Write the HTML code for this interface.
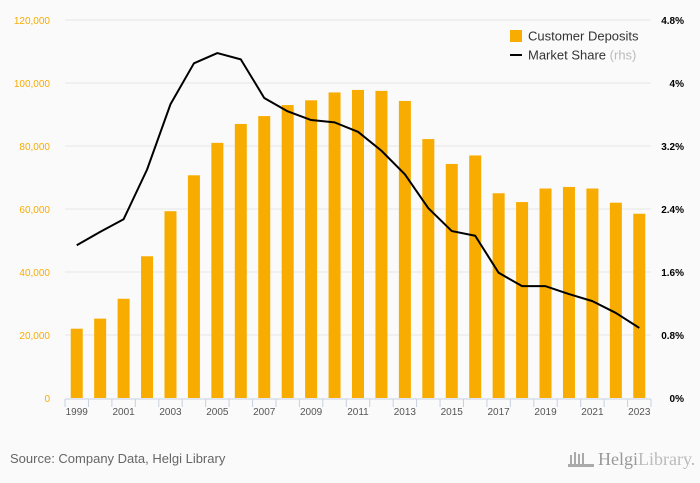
<!DOCTYPE html>
<html><head><meta charset="utf-8"><style>
body{margin:0;background:#fafafa;font-family:"Liberation Sans",sans-serif;}
svg{display:block}
</style></head><body>
<svg width="700" height="483" id="c">
<rect width="700" height="483" fill="#fafafa"/>
<g id="grid"></g><g id="bars"></g><g id="line"></g><g id="axes"></g>
<g>
<rect x="510" y="30" width="12" height="12" fill="#f8ac00"/>
<text x="528" y="40.5" font-size="13" fill="#333">Customer Deposits</text>
<line x1="510" y1="55" x2="522" y2="55" stroke="#000" stroke-width="2"/>
<text x="528" y="59.5" font-size="13" fill="#333">Market Share <tspan fill="#bbb">(rhs)</tspan></text>
</g>
<text x="10" y="463" font-size="13" fill="#666">Source: Company Data, Helgi Library</text>
<text x="598" y="465" font-size="18" fill="#999" font-family="Liberation Serif,serif">Helgi<tspan fill="#bbb">Library.</tspan></text>
<g fill="#aaa"><rect x="570" y="455" width="2" height="12"/><rect x="574" y="452" width="2" height="15"/><rect x="578" y="454" width="2" height="13"/><rect x="582" y="453" width="2" height="14"/><rect x="568" y="464" width="26" height="3"/></g>
</svg>
<script>
const years=["1999","2000","2001","2002","2003","2004","2005","2006","2007","2008","2009","2010","2011","2012","2013","2014","2015","2016","2017","2018","2019","2020","2021","2022","2023"];
const deposits=[22000,25200,31500,45000,59300,70700,81000,87000,89500,93000,94500,97000,97800,97500,94300,82200,74300,77000,65000,62200,66500,67000,66500,62000,58500];
const share=[1.94,2.11,2.27,2.90,3.73,4.25,4.38,4.30,3.81,3.64,3.53,3.50,3.38,3.14,2.84,2.41,2.12,2.06,1.59,1.42,1.42,1.32,1.23,1.08,0.89];
const leftTicks=[0,20000,40000,60000,80000,100000,120000];
const rightTicks=["0%","0.8%","1.6%","2.4%","3.2%","4%","4.8%"];
const NS="http://www.w3.org/2000/svg";
const y0=398,y1=20,xL=65,xR=651;
const step=(xR-xL)/years.length;
const xs=i=>xL+step*(i+0.5);
const yL=v=>y0-(v/120000)*(y0-y1);
const yR=v=>y0-(v/4.8)*(y0-y1);
function mk(t,a,p){const e=document.createElementNS(NS,t);for(const k in a)e.setAttribute(k,a[k]);p.appendChild(e);return e;}
const G=document.getElementById('grid'),B=document.getElementById('bars'),L=document.getElementById('line'),A=document.getElementById('axes');
leftTicks.forEach((v,i)=>{
 if(i>0){const g=mk('line',{x1:xL,x2:xR,y1:yL(v),y2:yL(v),stroke:'#e6e6e6'},G);
 
 }
 const t=mk('text',{x:50,y:yL(v)+4,'font-size':10,fill:'#f8ac00','text-anchor':'end'},A);t.textContent=v.toLocaleString('en-US');
 
 
 const r=mk('text',{x:684,y:yL(v)+4,'font-size':10,fill:'#000','font-weight':'bold','text-anchor':'end'},A);r.textContent=rightTicks[i];
 
 
});
deposits.forEach((v,i)=>{
 const b=mk('rect',{x:xs(i)-6,y:yL(v),width:12,height:y0-yL(v),fill:'#f8ac00'},B);
 
 
});
const p=mk('polyline',{points:share.map((v,i)=>xs(i)+','+yR(v)).join(' '),fill:'none',stroke:'#000','stroke-width':2,'stroke-linejoin':'round'},L);


const ax=mk('line',{x1:xL,x2:xR,y1:y0+1,y2:y0+1,stroke:'#c8d0e0'},A);


for(let i=0;i<=years.length;i++){const t=mk('line',{x1:xL+step*i,x2:xL+step*i,y1:y0+1,y2:y0+9,stroke:'#c8d0e0'},A);
 
 }
years.forEach((y,i)=>{if(i%2)return;const t=mk('text',{x:xs(i),y:y0+17,'font-size':10,fill:'#555','text-anchor':'middle'},A);t.textContent=y;
 
 });
</script>
</body></html>
